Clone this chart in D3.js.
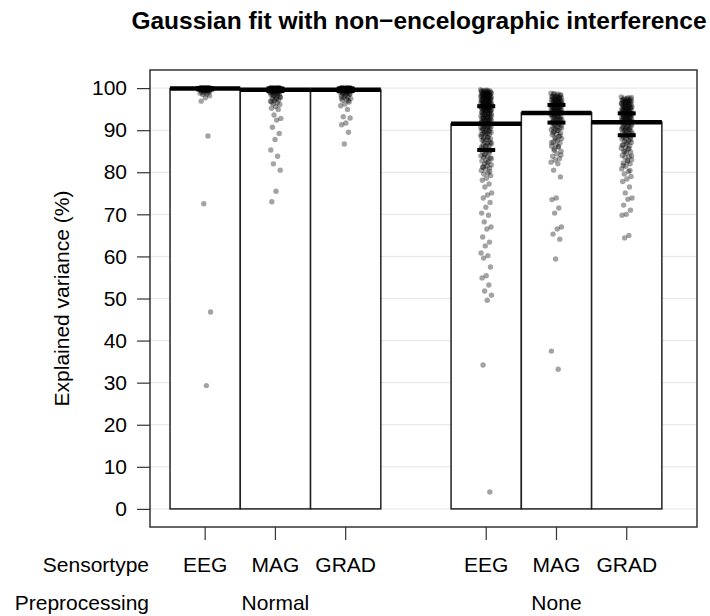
<!DOCTYPE html>
<html>
<head>
<meta charset="utf-8">
<script src="https://cdn.jsdelivr.net/npm/d3@7"></script>
<style>
  body { margin: 0; background: white; }
  text { font-family: "Liberation Sans", Arial, Helvetica, sans-serif; fill: black; }
</style>
</head>
<body>
<svg id="svg"></svg>
<script>
////////////////////////////////////////////////////////////////////////
// Data

let groups = ["Normal", "None"];
let sensors = ["EEG", "MAG", "GRAD"];
let yTicks = [0, 10, 20, 30, 40, 50, 60, 70, 80, 90, 100];

// bar heights (mean explained variance), one per group x sensor
let barMeans = [
  [99.9, 99.6, 99.6],
  [91.5, 94.1, 91.9]
];
// short marks drawn on the None bars
let markLow = [
  [99.7, 99.3, 99.3],
  [85.3, 91.8, 88.8]
];
let markHigh = [
  [100.0, 99.9, 99.9],
  [95.7, 96.0, 94.0]
];

// individual fits
let normalEEG = [100, 100, 100, 100, 100, 100, 100, 100, 100, 100, 100, 100, 100, 100,
  100, 100, 99.9, 99.9, 99.9, 99.9, 99.9, 99.9, 99.9, 99.9, 99.8, 99.8, 99.8, 99.8,
  99.8, 99.8, 99.7, 99.7, 99.7, 99.7, 99.6, 99.6, 99.6, 99.5, 99.5, 99.5, 99.4, 99.4,
  99.3, 99.2, 99.1, 99.0, 98.9, 98.8, 98.6, 98.5, 98.2, 97.7, 96.9, 88.6, 72.5, 46.8, 29.3,
  100, 100, 100, 100, 100, 100, 100, 100, 99.9, 99.9, 99.9, 99.8, 99.8, 99.7, 99.6, 99.4];
let normalMAG = [100, 100, 100, 100, 100, 100, 100, 100, 100, 100, 100, 100, 99.9, 99.9,
  99.9, 99.9, 99.9, 99.8, 99.8, 99.8, 99.8, 99.7, 99.7, 99.7, 99.6, 99.6, 99.5, 99.5,
  99.4, 99.3, 99.3, 99.2, 99.1, 99.0, 98.9, 98.8, 98.7, 98.6, 98.5, 98.4, 98.2, 98.0,
  97.8, 97.6, 97.5, 97.2, 97.0, 96.9, 96.5, 96.3, 96.1, 95.6, 95.2, 94.9, 93.6, 92.8,
  92.4, 90.7, 89.2, 87.8, 85.3, 83.8, 82.0, 80.5, 75.5, 73.0,
  100, 100, 100, 100, 100, 100, 99.9, 99.9, 99.8, 99.8, 99.7, 99.6, 99.5, 99.4, 99.2,
  99.0, 98.7, 98.3, 97.9, 97.4, 96.7];
let normalGRAD = [100, 100, 100, 100, 100, 100, 100, 100, 100, 100, 100, 100, 99.9, 99.9,
  99.9, 99.9, 99.9, 99.8, 99.8, 99.8, 99.8, 99.7, 99.7, 99.7, 99.6, 99.6, 99.5, 99.5,
  99.4, 99.3, 99.3, 99.2, 99.1, 99.0, 98.9, 98.8, 98.7, 98.6, 98.4, 98.1, 97.9, 97.8,
  97.5, 97.3, 97.1, 96.7, 96.2, 95.8, 94.9, 93.2, 92.9, 91.7, 91.3, 89.5, 86.7,
  100, 100, 100, 100, 100, 100, 99.9, 99.9, 99.8, 99.8, 99.7, 99.6, 99.5, 99.3, 99.1,
  98.9, 98.6, 98.2, 97.6, 97.0];
let noneEEG = [99.6, 99.5, 99.4, 99.3, 99.2, 99.1, 99.0, 98.9, 98.9, 98.8, 98.7, 98.6,
  98.5, 98.4, 98.4, 98.3, 98.2, 98.1, 98.0, 97.9, 97.9, 97.8, 97.7, 97.6, 97.5, 97.4,
  97.3, 97.3, 97.2, 97.1, 97.0, 96.9, 96.8, 96.7, 96.6, 96.6, 96.5, 96.4, 96.3, 96.2,
  96.1, 96.0, 96.0, 95.9, 95.8, 95.7, 95.6, 95.5, 95.4, 95.4, 95.3, 95.2, 95.1, 95.0,
  94.9, 94.8, 94.7, 94.6, 94.5, 94.4, 94.2, 94.1, 94.0, 93.9, 93.8, 93.7, 93.6, 93.4,
  93.3, 93.2, 93.1, 93.0, 92.9, 92.8, 92.6, 92.5, 92.4, 92.3, 92.2, 92.1, 92.0, 91.8,
  91.7, 91.5, 91.4, 91.3, 91.2, 91.0, 90.9, 90.7, 90.5, 90.4, 90.3, 90.1, 90.0, 89.8,
  89.6, 89.5, 89.2, 89.1, 89.0, 88.9, 88.5, 88.4, 88.2, 87.9, 87.8, 87.6, 87.5, 87.1,
  86.9, 86.8, 86.6, 86.4, 86.2, 86.0, 85.6, 85.4, 85.2, 85.1, 84.8, 84.6, 84.3, 83.9,
  83.7, 83.6, 83.4, 82.9, 82.7, 82.5, 82.0, 81.8, 81.5, 81.2, 81.0, 80.8, 80.4, 79.8,
  79.6, 79.2, 78.6, 78.1, 77.2, 76.5, 75.1, 74.6, 73.9, 72.8, 71.7, 70.3, 69.8, 68.2,
  67.0, 66.5, 64.6, 63.4, 62.5, 60.8, 60.2, 59.6, 57.5, 55.4, 54.9, 53.2, 51.8, 50.8,
  49.6, 34.2, 4.0,
  99.5, 99.3, 99.2, 99.0, 98.8, 98.7, 98.5, 98.3, 98.1, 97.9, 97.7, 97.5, 97.4, 97.2,
  97.0, 96.8, 96.6, 96.4, 96.2, 96.0, 95.8, 95.6, 95.4, 95.2, 95.0, 94.8, 94.6, 94.3,
  94.0, 93.8, 93.5, 93.2, 92.9, 92.6, 92.3, 92.0, 91.6, 91.3, 90.9, 90.6, 90.2, 89.8,
  89.4, 88.9, 88.3, 87.7, 87.0, 86.3, 85.7, 85.0, 84.1, 83.2, 82.3, 81.3, 80.2];
let noneMAG = [98.8, 98.6, 98.5, 98.3, 98.2, 98.0, 97.9, 97.8, 97.7, 97.6, 97.5, 97.4,
  97.3, 97.2, 97.1, 97.0, 96.9, 96.8, 96.7, 96.6, 96.5, 96.4, 96.3, 96.2, 96.1, 96.0,
  95.9, 95.8, 95.7, 95.6, 95.5, 95.4, 95.3, 95.2, 95.1, 95.0, 94.9, 94.8, 94.7, 94.6,
  94.5, 94.4, 94.3, 94.2, 94.1, 94.0, 93.9, 93.8, 93.6, 93.4, 93.3, 93.2, 93.0, 92.9,
  92.7, 92.5, 92.4, 92.2, 92.1, 91.9, 91.8, 91.5, 91.4, 91.2, 90.9, 90.7, 90.5, 90.3,
  90.1, 89.9, 89.7, 89.3, 89.1, 88.9, 88.5, 88.2, 88.0, 87.5, 87.2, 87.0, 86.5, 86.2,
  86.0, 85.5, 85.0, 84.4, 83.8, 83.2, 82.9, 82.4, 82.0, 80.5, 78.9, 73.9, 73.5, 71.5,
  70.3, 67.0, 66.5, 65.3, 64.1, 59.4, 37.5, 33.2,
  98.7, 98.4, 98.1, 97.9, 97.6, 97.3, 97.0, 96.8, 96.5, 96.3, 96.0, 95.7, 95.5, 95.2,
  95.0, 94.7, 94.5, 94.2, 93.9, 93.6, 93.3, 93.0, 92.6, 92.3, 91.9, 91.5, 91.0, 90.5,
  90.0, 89.4, 88.7, 87.9, 87.0, 86.1, 85.2, 84.1];
let noneGRAD = [97.9, 97.7, 97.6, 97.4, 97.3, 97.2, 97.1, 97.0, 96.9, 96.8, 96.7, 96.6,
  96.5, 96.4, 96.3, 96.2, 96.1, 96.0, 95.9, 95.8, 95.7, 95.6, 95.5, 95.4, 95.3, 95.2,
  95.1, 95.0, 94.9, 94.8, 94.7, 94.6, 94.5, 94.4, 94.3, 94.2, 94.1, 94.0, 93.9, 93.8,
  93.7, 93.6, 93.5, 93.4, 93.3, 93.2, 93.1, 93.0, 92.9, 92.8, 92.7, 92.6, 92.5, 92.4,
  92.3, 92.2, 92.1, 92.0, 91.9, 91.8, 91.7, 91.5, 91.3, 91.1, 90.9, 90.8, 90.6, 90.4,
  90.3, 90.1, 90.0, 89.8, 89.7, 89.4, 89.2, 89.1, 88.8, 88.6, 88.5, 88.2, 88.0, 87.9,
  87.5, 87.3, 87.1, 86.7, 86.5, 86.3, 85.9, 85.7, 85.5, 85.0, 84.8, 84.5, 84.0, 83.7,
  83.5, 83.0, 82.5, 82.2, 82.0, 81.4, 80.8, 80.2, 79.6, 79.0, 78.4, 77.8, 76.5, 75.1,
  73.9, 73.6, 72.2, 71.0, 70.0, 69.8, 65.0, 64.4,
  97.8, 97.5, 97.2, 96.9, 96.6, 96.3, 96.0, 95.7, 95.4, 95.1, 94.8, 94.5, 94.2, 93.9,
  93.6, 93.3, 93.0, 92.7, 92.4, 92.1, 91.8, 91.4, 91.0, 90.6, 90.2, 89.8, 89.3, 88.8,
  88.3, 87.7, 87.1, 86.4, 85.6, 84.8, 83.9, 82.8, 81.6, 80.4];

let points = [
  [normalEEG, normalMAG, normalGRAD],
  [noneEEG, noneMAG, noneGRAD]
];

////////////////////////////////////////////////////////////////////////
// Layout

let winWidth = 710, winHeight = 616;
let box = { left: 150, right: 697, top: 70, bottom: 527 };

// slot units: bars at 0,1,2 and 4,5,6 (one empty slot between groups)
let x = d3.scaleLinear().domain([-0.285, 7.5]).range([box.left, box.right]);
let y = d3.scaleLinear().domain([-4.3, 104.3]).range([box.bottom, box.top]);

function slot(g, s) { return g * 4 + s; }

let svg = d3.select("#svg")
  .attr("width", winWidth)
  .attr("height", winHeight);

// grid lines
svg.append("g").selectAll("line")
  .data(yTicks).enter().append("line")
  .attr("x1", box.left).attr("x2", box.right)
  .attr("y1", d => y(d)).attr("y2", d => y(d))
  .attr("stroke", "#e4e4e4").attr("stroke-width", 1);

// flatten into cells
let cells = [];
for (let g = 0; g < groups.length; ++g) {
  for (let s = 0; s < sensors.length; ++s) {
    cells.push({ g: g, s: s, mean: barMeans[g][s], lo: markLow[g][s],
                 hi: markHigh[g][s], pts: points[g][s] });
  }
}

// bars
svg.append("g").selectAll("rect")
  .data(cells).enter().append("rect")
  .attr("x", d => x(slot(d.g, d.s)))
  .attr("width", d => x(slot(d.g, d.s) + 1) - x(slot(d.g, d.s)))
  .attr("y", d => y(d.mean))
  .attr("height", d => y(0) - y(d.mean))
  .attr("fill", "white")
  .attr("stroke", "#222")
  .attr("stroke-width", 1.5);

// mean lines
svg.append("g").selectAll("line")
  .data(cells).enter().append("line")
  .attr("x1", d => x(slot(d.g, d.s)))
  .attr("x2", d => x(slot(d.g, d.s) + 1))
  .attr("y1", d => y(d.mean)).attr("y2", d => y(d.mean))
  .attr("stroke", "black").attr("stroke-width", 4.5);

// short marks
let markG = svg.append("g");
cells.forEach(function(c) {
  let cx = x(slot(c.g, c.s) + 0.5);
  markG.selectAll(null)
    .data([c.lo, c.hi]).enter().append("line")
    .attr("x1", cx - 9).attr("x2", cx + 9)
    .attr("y1", v => y(v)).attr("y2", v => y(v))
    .attr("stroke", "black").attr("stroke-width", 4);
});

// jittered points (deterministic low-discrepancy jitter)
let jitter = 5.5;
let ptG = svg.append("g");
cells.forEach(function(c) {
  let cx = x(slot(c.g, c.s) + 0.5);
  ptG.selectAll(null)
    .data(c.pts).enter().append("circle")
    .attr("cx", (v, i) => cx + (((i * 0.6180339) % 1) - 0.5) * 2 * jitter)
    .attr("cy", v => y(v))
    .attr("r", 2.7)
    .attr("fill", "black")
    .attr("fill-opacity", 0.36);
});

// frame
svg.append("rect")
  .attr("x", box.left).attr("y", box.top)
  .attr("width", box.right - box.left).attr("height", box.bottom - box.top)
  .attr("fill", "none").attr("stroke", "#333").attr("stroke-width", 1.5);

// y axis
let yAxis = d3.axisLeft(y).tickValues(yTicks).tickSize(13).tickPadding(10);
let yg = svg.append("g")
  .attr("transform", "translate(" + box.left + ",0)")
  .call(yAxis);
yg.select(".domain").remove();
yg.selectAll(".tick line").attr("stroke", "#333").attr("stroke-width", 1.2);
yg.selectAll(".tick text")
  .style("font-size", "21px")
  .style("font-family", "Liberation Sans, Arial, sans-serif");

// x ticks
svg.append("g").selectAll("line")
  .data(cells).enter().append("line")
  .attr("x1", d => x(slot(d.g, d.s) + 0.5))
  .attr("x2", d => x(slot(d.g, d.s) + 0.5))
  .attr("y1", box.bottom).attr("y2", box.bottom + 13)
  .attr("stroke", "#333").attr("stroke-width", 1.2);

// sensor labels
svg.append("g").selectAll("text")
  .data(cells).enter().append("text")
  .attr("x", d => x(slot(d.g, d.s) + 0.5))
  .attr("y", 572)
  .attr("text-anchor", "middle")
  .style("font-size", "21px")
  .text(d => sensors[d.s]);

// group labels
svg.append("g").selectAll("text")
  .data(groups).enter().append("text")
  .attr("x", (d, g) => x(slot(g, 1) + 0.5))
  .attr("y", 610)
  .attr("text-anchor", "middle")
  .style("font-size", "21px")
  .text(d => d);

svg.append("text").attr("x", 149).attr("y", 572)
  .attr("text-anchor", "end").style("font-size", "21px").text("Sensortype");
svg.append("text").attr("x", 149).attr("y", 610)
  .attr("text-anchor", "end").style("font-size", "21px").text("Preprocessing");

// y axis title
svg.append("text")
  .attr("transform", "translate(69," + y(50) + ") rotate(-90)")
  .attr("text-anchor", "middle")
  .style("font-size", "21px")
  .text("Explained variance (%)");

// title
svg.append("text")
  .attr("x", 419)
  .attr("y", 29)
  .attr("text-anchor", "middle")
  .style("font-size", "24.5px")
  .style("font-weight", "bold")
  .text("Gaussian fit with non\u2212encelographic interference");
</script>
</body>
</html>
